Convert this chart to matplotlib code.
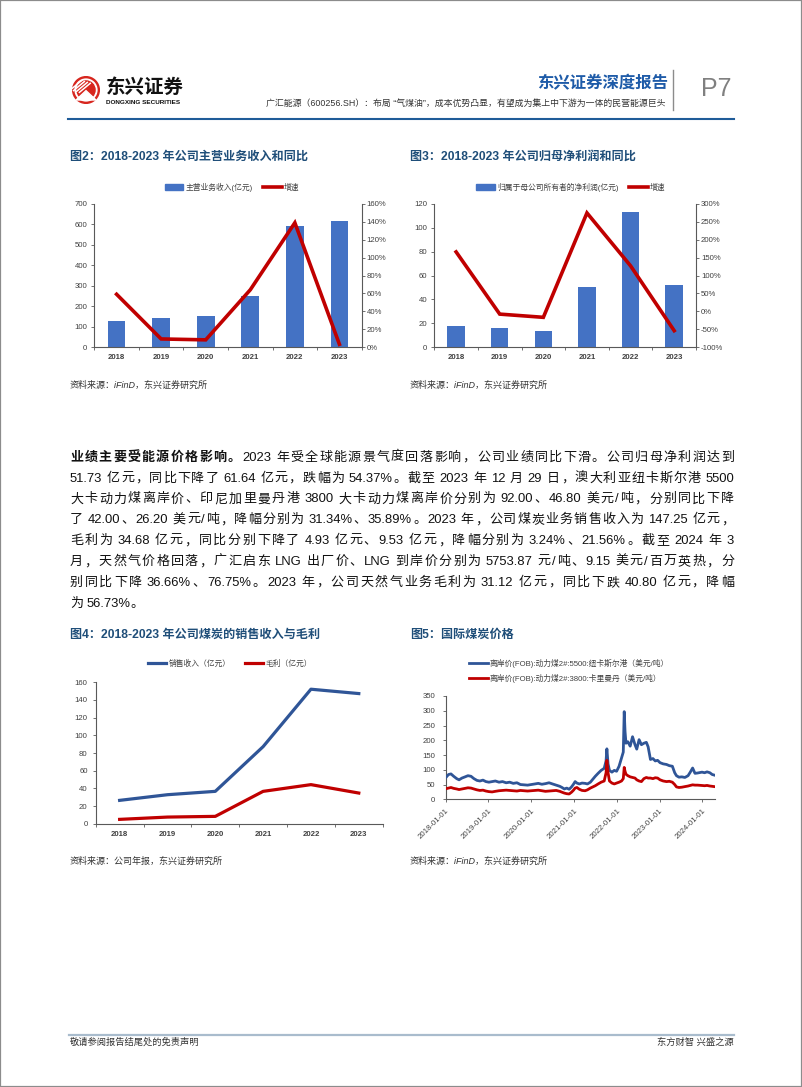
import re
import matplotlib
matplotlib.use('Agg')
import matplotlib.pyplot as plt
from matplotlib.patches import Rectangle, Circle, Patch
from matplotlib.lines import Line2D
from matplotlib.ticker import FuncFormatter, FixedLocator
import matplotlib.dates as mdates
import numpy as np
import pandas as pd

W, H = 802, 1087
FAM = ['Liberation Sans', 'Noto Sans CJK SC', 'DejaVu Sans']
plt.rcParams['font.family'] = FAM

# ---------------- data ----------------
years = ['2018', '2019', '2020', '2021', '2022', '2023']
revenue = [129, 141, 152, 250, 594, 615]
revenue_growth = [59, 9, 8, 64, 139, 3]
net_profit = [17.7, 16.0, 13.5, 50.2, 113.6, 51.73]
net_profit_growth = [166, -8, -17, 275, 127, -54.37]
coal_sales = [26.4, 32.8, 36.6, 87.2, 152.18, 147.25]
coal_gross = [4.9, 7.5, 8.3, 36.6, 44.21, 34.68]

price_dates = [
    '2018-01-05', '2018-01-25', '2018-02-15', '2018-03-10', '2018-04-05', '2018-04-25',
    '2018-05-20', '2018-06-15', '2018-07-10', '2018-08-05', '2018-08-30', '2018-09-25',
    '2018-10-20', '2018-11-15', '2018-12-10', '2019-01-05', '2019-02-01', '2019-03-01',
    '2019-04-01', '2019-05-01', '2019-06-01', '2019-07-01', '2019-08-01', '2019-09-01',
    '2019-10-01', '2019-11-01', '2019-12-01', '2020-01-01', '2020-02-01', '2020-03-01',
    '2020-04-01', '2020-05-01', '2020-06-01', '2020-07-01', '2020-08-01', '2020-09-01',
    '2020-09-20', '2020-10-10', '2020-10-30', '2020-11-20', '2020-12-10', '2020-12-25',
    '2021-01-10', '2021-01-25', '2021-02-15', '2021-03-10', '2021-04-05', '2021-04-25',
    '2021-05-20', '2021-06-10', '2021-07-01', '2021-07-25', '2021-08-20', '2021-09-15',
    '2021-10-01', '2021-10-08', '2021-10-18', '2021-10-30', '2021-11-20', '2021-12-10',
    '2021-12-30', '2022-01-20', '2022-02-10', '2022-02-25', '2022-03-05', '2022-03-12',
    '2022-03-20', '2022-04-05', '2022-04-25', '2022-05-15', '2022-06-05', '2022-06-20',
    '2022-07-10', '2022-07-30', '2022-08-20', '2022-09-10', '2022-09-25', '2022-10-15',
    '2022-11-05', '2022-11-25', '2022-12-15', '2023-01-05', '2023-02-01', '2023-03-01',
    '2023-03-25', '2023-04-20', '2023-05-10', '2023-05-25', '2023-06-15', '2023-07-10',
    '2023-08-05', '2023-09-01', '2023-09-20', '2023-10-10', '2023-10-30', '2023-11-20',
    '2023-12-29', '2024-01-20', '2024-02-10', '2024-03-05', '2024-03-25', '2024-04-12',
]
newcastle_5500 = [
    75, 84, 86, 78, 70, 66, 72, 76, 80, 78, 70, 64,
    62, 65, 60, 58, 60, 62, 58, 60, 56, 58, 54, 56,
    50, 49, 48, 50, 52, 54, 51, 53, 56, 52, 48, 44,
    40, 35, 38, 34, 42, 50, 60, 55, 52, 55, 54, 52,
    58, 68, 78, 88, 98, 105, 130, 171, 120, 98, 92, 98,
    95, 112, 140, 160, 297, 230, 190, 195, 180, 212, 185, 170,
    202, 185, 190, 193, 178, 135, 138, 130, 132, 124, 120, 118,
    114, 112, 90, 80, 75, 76, 74, 80, 92, 106, 88, 89,
    92, 90, 93, 90, 84, 82,
]
kalimantan_3800 = [
    36, 38, 40, 37, 35, 33, 35, 37, 39, 38, 35, 32,
    30, 31, 28, 26, 25, 27, 29, 30, 31, 30, 29, 28,
    30, 29, 28, 29, 30, 31, 29, 27, 28, 29, 30, 27,
    24, 21, 19, 18, 24, 30, 38, 40, 34, 30, 29, 32,
    38, 42, 46, 52, 58, 62, 90, 132, 90, 62, 55, 52,
    55, 58, 62, 70, 108, 95, 85, 80, 76, 74, 72, 66,
    62, 60, 70, 74, 72, 72, 70, 73, 72, 66, 62, 60,
    61, 58, 50, 42, 40, 41, 43, 45, 47, 49, 48, 48,
    46.8, 46, 47, 45, 44, 43,
]

legend2 = ['主营业务收入(亿元)', '增速']
legend3 = ['归属于母公司所有者的净利润(亿元)', '增速']
legend4 = ['销售收入（亿元）', '毛利（亿元）']
legend5 = ['离岸价(FOB):动力煤2#:5500:纽卡斯尔港（美元/吨）',
           '离岸价(FOB):动力煤2#:3800:卡里曼丹（美元/吨）']

paragraph = [
    '业绩主要受能源价格影响。2023 年受全球能源景气度回落影响，公司业绩同比下滑。公司归母净利润达到',
    '51.73 亿元，同比下降了 61.64 亿元，跌幅为 54.37%。截至 2023 年 12 月 29 日，澳大利亚纽卡斯尔港 5500',
    '大卡动力煤离岸价、印尼加里曼丹港 3800 大卡动力煤离岸价分别为 92.00、46.80 美元/吨，分别同比下降',
    '了 42.00、26.20 美元/吨，降幅分别为 31.34%、35.89%。2023 年，公司煤炭业务销售收入为 147.25 亿元，',
    '毛利为 34.68 亿元，同比分别下降了 4.93 亿元、9.53 亿元，降幅分别为 3.24%、21.56%。截至 2024 年 3',
    '月，天然气价格回落，广汇启东 LNG 出厂价、LNG 到岸价分别为 5753.87 元/吨、9.15 美元/百万英热，分',
    '别同比下降 36.66%、76.75%。2023 年，公司天然气业务毛利为 31.12 亿元，同比下跌 40.80 亿元，降幅',
    '为 56.73%。',
]
bold_prefix = '业绩主要受能源价格影响。'

# ---------------- colours ----------------
BAR = '#4472C4'
RED = '#C00000'
NAVY = '#2F5597'
TITLE = '#1F4E79'
AXC = '#595959'
TKC = '#404040'
TFS = 5.6

fig = plt.figure(figsize=(W / 100, H / 100), dpi=100)
fig.patch.set_facecolor('white')


def px_axes(l, t, r, b):
    return fig.add_axes([l / W, 1 - b / H, (r - l) / W, (b - t) / H])


def ftext(x, y, s, **kw):
    return fig.text(x / W, 1 - y / H, s, **kw)


def hline(x0, x1, y, **kw):
    fig.add_artist(Line2D([x0 / W, x1 / W], [1 - y / H, 1 - y / H], transform=fig.transFigure, **kw))


# page border
fig.add_artist(Rectangle((0, 0), 1, 1, transform=fig.transFigure, fill=False,
                         edgecolor='#8c8c8c', lw=1.6))

# ---------------- header ----------------
lax = px_axes(71, 76, 101, 104)
lax.set_xlim(-1.05, 1.05)
lax.set_ylim(-1.05, 1.05)
lax.set_aspect('equal')
lax.axis('off')
lax.add_patch(Circle((0, 0), 1.0, color='#D7261E'))
lax.add_patch(Circle((0, 0), 0.82, color='white'))
lax.add_patch(Circle((0, 0), 0.68, color='#D7261E'))
for k in range(4):
    off = -0.45 + k * 0.22
    lax.plot([-0.75 + off, 0.15 + off], [-0.15 - off * 0.3, 0.6 - off * 0.3], color='white', lw=1.1,
             solid_capstyle='butt')
lax.fill([-0.75, 0.0, 0.75], [-0.75, -0.05, -0.75], color='white')

ftext(106, 88, '东兴证券', fontsize=14, fontweight='bold', color='#111111', va='center', ha='left')
ftext(106.5, 102.5, 'DONGXING SECURITIES', fontsize=4.6, fontweight='bold', color='#111111',
      va='center', ha='left')
ftext(668, 83, '东兴证券深度报告', fontsize=11.8, fontweight='bold', color='#1E5BA8', va='center', ha='right')
ftext(665, 103, '广汇能源（600256.SH）：布局 “气煤油”，成本优势凸显，有望成为集上中下游为一体的民营能源巨头',
      fontsize=6.4, color='#333333', va='center', ha='right')
fig.add_artist(Line2D([673 / W, 673 / W], [1 - 70 / H, 1 - 110 / H], transform=fig.transFigure,
                      color='#8c8c8c', lw=1.0))
ftext(701, 89.5, 'P7', fontsize=18, color='#808080', va='center', ha='left')
hline(68, 734, 118.5, color='#1F5C99', lw=1.5)

# ---------------- footer ----------------
hline(69, 734, 1034.5, color='#A9BCCD', lw=1.6)
ftext(70, 1042.5, '敬请参阅报告结尾处的免责声明', fontsize=6.7, color='#333333', va='center', ha='left')
ftext(734, 1042.5, '东方财智 兴盛之源', fontsize=6.7, color='#333333', va='center', ha='right')


# ---------------- helpers ----------------
def style(ax, left=True, right=False, bottom=True):
    for s in ['top', 'right', 'left', 'bottom']:
        ax.spines[s].set_visible(False)
    if left:
        ax.spines['left'].set_visible(True)
    if right:
        ax.spines['right'].set_visible(True)
    if bottom:
        ax.spines['bottom'].set_visible(True)
    for s in ax.spines.values():
        s.set_color(AXC)
        s.set_linewidth(0.8)
    ax.tick_params(colors=AXC, labelcolor=TKC, labelsize=TFS, width=0.6)
    ax.set_facecolor('none')


pct = FuncFormatter(lambda v, p: f'{v:.0f}%')


def category_axis(ax, n):
    x = np.arange(n)
    ax.set_xlim(-0.5, n - 0.5)
    ax.set_xticks(x)
    ax.set_xticklabels(years, fontweight='bold')
    ax.xaxis.set_minor_locator(FixedLocator(np.arange(-0.5, n, 1.0)))
    ax.tick_params(axis='x', which='major', length=0, pad=5)
    ax.tick_params(axis='x', which='minor', length=2.5, direction='out', color=AXC, width=0.6)


def titles(x, y, s):
    ftext(x, y, s, fontsize=8.7, fontweight='bold', color=TITLE, va='center', ha='left')


def source(x, y, s):
    ftext(x, y, s, fontsize=6.5, color='#333333', va='center', ha='left', style='italic')


x6 = np.arange(len(years))

# ---------------- Figure 2 ----------------
titles(70, 156.5, '图2：2018-2023 年公司主营业务收入和同比')
ax = px_axes(94.3, 204, 361.7, 347)
ax.bar(x6, revenue, width=0.4, color=BAR, zorder=2)
ax.set_ylim(0, 700)
ax.set_yticks(range(0, 701, 100))
category_axis(ax, len(years))
style(ax)
ax.tick_params(axis='y', length=2, direction='out', pad=3)
axr = ax.twinx()
axr.plot(x6, revenue_growth, color=RED, lw=2.6, zorder=3, solid_joinstyle='miter')
axr.set_ylim(0, 160)
axr.set_yticks(range(0, 161, 20))
axr.yaxis.set_major_formatter(pct)
style(axr, left=False, right=True, bottom=False)
axr.tick_params(axis='y', length=2, direction='out', pad=1.5)
fig.legend([Patch(color=BAR), Line2D([], [], color=RED, lw=2.6)], legend2, loc='center',
           bbox_to_anchor=(232 / W, 1 - 187 / H), ncol=2, frameon=False, fontsize=TFS,
           handlelength=2.4, handleheight=0.7, columnspacing=1.3, handletextpad=0.3,
           labelcolor=TKC)
source(70, 385, '资料来源：iFinD，东兴证券研究所')

# ---------------- Figure 3 ----------------
titles(410, 156.5, '图3：2018-2023 年公司归母净利润和同比')
ax = px_axes(434.3, 204, 696, 347)
ax.bar(x6, net_profit, width=0.4, color=BAR, zorder=2)
ax.set_ylim(0, 120)
ax.set_yticks(range(0, 121, 20))
category_axis(ax, len(years))
style(ax)
ax.tick_params(axis='y', length=2, direction='out', pad=3)
axr = ax.twinx()
axr.plot(x6, net_profit_growth, color=RED, lw=2.6, zorder=3, solid_joinstyle='miter')
axr.set_ylim(-100, 300)
axr.set_yticks(range(-100, 301, 50))
axr.yaxis.set_major_formatter(pct)
style(axr, left=False, right=True, bottom=False)
axr.tick_params(axis='y', length=2, direction='out', pad=1.5)
fig.legend([Patch(color=BAR), Line2D([], [], color=RED, lw=2.6)], legend3, loc='center',
           bbox_to_anchor=(571 / W, 1 - 187 / H), ncol=2, frameon=False, fontsize=TFS,
           handlelength=2.4, handleheight=0.7, columnspacing=1.3, handletextpad=0.3,
           labelcolor=TKC)
source(410, 385, '资料来源：iFinD，东兴证券研究所')

# ---------------- Figure 4 ----------------
titles(70, 634.3, '图4：2018-2023 年公司煤炭的销售收入与毛利')
ax = px_axes(95.7, 682.3, 382.7, 823.7)
ax.plot(x6, coal_sales, color=NAVY, lw=2.3, zorder=3)
ax.plot(x6, coal_gross, color=RED, lw=2.3, zorder=3)
ax.set_ylim(0, 160)
ax.set_yticks(range(0, 161, 20))
category_axis(ax, len(years))
style(ax)
ax.tick_params(axis='y', length=2.5, direction='out', pad=3.3)
fig.legend([Line2D([], [], color=NAVY, lw=2.3), Line2D([], [], color=RED, lw=2.3)], legend4,
           loc='center', bbox_to_anchor=(230 / W, 1 - 663.5 / H), ncol=2, frameon=False,
           fontsize=TFS, handlelength=2.4, columnspacing=1.8, handletextpad=0.3, labelcolor=TKC)
source(70, 861, '资料来源：公司年报，东兴证券研究所')

# ---------------- Figure 5 ----------------
titles(410, 634.3, '图5：国际煤炭价格')
dates = pd.to_datetime(price_dates)
ax = px_axes(445.7, 696, 715, 799.3)
ax.plot(dates, newcastle_5500, color=NAVY, lw=2.0, zorder=3)
ax.plot(dates, kalimantan_3800, color=RED, lw=2.0, zorder=3)
ax.set_xlim(pd.Timestamp('2018-01-01'), pd.Timestamp('2024-04-18'))
ax.set_ylim(0, 350)
ax.set_yticks(range(0, 351, 50))
ax.set_xticks(pd.to_datetime([f'{y}-01-01' for y in range(2018, 2025)]))
ax.xaxis.set_major_formatter(mdates.DateFormatter('%Y-%m-%d'))
style(ax)
ax.tick_params(axis='y', length=2.5, direction='out', pad=5)
ax.tick_params(axis='x', length=2.5, direction='out', pad=3)
for lab in ax.get_xticklabels():
    lab.set_rotation(45)
    lab.set_ha('right')
    lab.set_va('top')
    lab.set_rotation_mode('anchor')
fig.legend([Line2D([], [], color=NAVY, lw=2.0), Line2D([], [], color=RED, lw=2.0)], legend5,
           loc='center', bbox_to_anchor=(569 / W, 1 - 671 / H), ncol=1, frameon=False,
           fontsize=TFS, handlelength=2.4, handletextpad=0.3, labelspacing=0.75, labelcolor=TKC)
source(410, 861, '资料来源：iFinD，东兴证券研究所')

# ---------------- body paragraph (justified) ----------------
renderer = fig.canvas.get_renderer()
FS = 9.4
FPX = FS * 100 / 72


def is_wide(ch):
    return ord(ch) > 0x2E7F


def token_width(t, weight):
    if len(t) == 1 and is_wide(t):
        return FPX
    a = fig.text(0, 0, '|' + t + '|', fontsize=FS, fontweight=weight)
    b = fig.text(0, 0, '||', fontsize=FS, fontweight=weight)
    w = a.get_window_extent(renderer).width - b.get_window_extent(renderer).width
    a.remove()
    b.remove()
    return w


X0, X1 = 70, 734
Y0, DY = 456, 20.9
SPW = FPX * 0.28
for li, line in enumerate(paragraph):
    toks = []
    sp = False
    nchar = 0
    for m in re.finditer(r'[!-~]+| +|.', line):
        t = m.group()
        if t[0] == ' ':
            sp = True
            nchar += len(t)
            continue
        bold = (li == 0 and nchar < len(bold_prefix))
        toks.append((t, sp, 'bold' if bold else 'normal'))
        nchar += len(t)
        sp = False
    widths = [token_width(t, w) for t, s, w in toks]
    nat = sum(widths) + SPW * sum(1 for t, s, w in toks if s)
    justify = li < len(paragraph) - 1
    extra = (X1 - X0 - nat) / (len(toks) - 1) if justify else 0.0
    x = X0
    ybase = Y0 + li * DY + 4.6
    for k, (t, s, w) in enumerate(toks):
        if k > 0:
            x += extra
            if s:
                x += SPW
        ftext(x, ybase, t, fontsize=FS, fontweight=w, color='#111111', va='baseline', ha='left')
        x += widths[k]

fig.savefig('out.png', dpi=100, facecolor='white')
